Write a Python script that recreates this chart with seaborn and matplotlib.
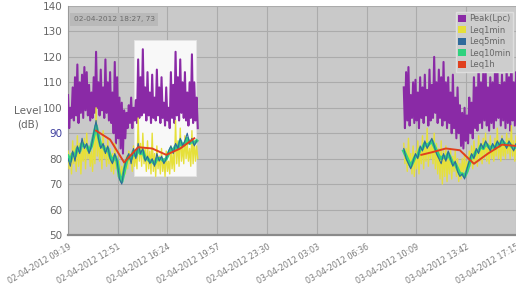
import numpy as np
import pandas as pd
import matplotlib
matplotlib.use('Agg')
import matplotlib.pyplot as plt
import matplotlib.dates as mdates
from matplotlib.patches import Patch, Rectangle
import seaborn as sns

# ---- day 1 : 10 minute bins from 02-04-2012 09:19 ----
day1_start = '2012-04-02 09:19'
peak_hi_1 = [105, 100, 108, 112, 117, 110, 113, 116, 114, 109, 106, 112, 122, 110, 115, 108,
             119, 110, 114, 106, 118, 112, 104, 102, 99, 98, 101, 104, 100, 103, 119, 112,
             123, 108, 114, 106, 113, 104, 115, 108, 112, 102, 108, 100, 114, 109, 122, 112,
             119, 110, 114, 106, 110, 121, 110, 104]
peak_lo_1 = [92, 96, 95, 97, 94, 98, 96, 99, 97, 95, 96, 98, 100, 97, 99, 96, 98, 95, 94, 90,
             86, 88, 84, 82, 88, 92, 94, 92, 95, 94, 96, 97, 98, 95, 97, 94, 96, 95, 97, 94,
             96, 93, 95, 92, 96, 94, 97, 95, 98, 96, 95, 93, 96, 94, 95, 92]
leq1min_hi_1 = [83, 82, 87, 85, 89, 86, 84, 88, 90, 85, 83, 87, 100, 89, 86, 91, 85, 88, 84, 82,
                86, 81, 79, 77, 79, 81, 83, 80, 85, 82, 96, 86, 90, 84, 87, 83, 90, 82, 85, 81,
                84, 80, 83, 79, 85, 82, 95, 87, 92, 85, 89, 86, 84, 91, 87, 85]
leq1min_lo_1 = [76, 74, 78, 75, 77, 74, 79, 76, 80, 77, 75, 78, 81, 79, 76, 80, 77, 78, 75, 74,
                76, 73, 71, 72, 74, 76, 78, 75, 77, 76, 79, 77, 78, 75, 76, 74, 75, 73, 76, 74,
                75, 73, 75, 74, 76, 75, 78, 77, 79, 78, 80, 79, 77, 78, 79, 80]
leq5_1 = [80, 77, 83, 79, 85, 82, 88, 84, 86, 82, 85, 90, 95, 88, 84, 86, 82, 85, 80, 78, 82,
          79, 72, 70, 76, 80, 82, 78, 84, 80, 86, 82, 84, 79, 81, 78, 80, 77, 82, 79, 81, 78,
          80, 83, 85, 82, 86, 84, 88, 85, 87, 90, 86, 88, 85, 87]
leq10_1 = [81, 79, 82, 81, 84, 83, 86, 85, 85, 83, 85, 89, 93, 89, 85, 85, 83, 84, 81, 79, 81,
           79, 73, 71, 75, 79, 81, 80, 83, 81, 84, 82, 83, 80, 80, 79, 79, 78, 80, 80, 80, 79,
           80, 82, 84, 83, 85, 84, 87, 85, 86, 88, 86, 87, 86, 87]
leq1h_times_1 = ['2012-04-02 11:19', '2012-04-02 12:19', '2012-04-02 13:19', '2012-04-02 14:19',
                 '2012-04-02 15:19', '2012-04-02 16:19', '2012-04-02 17:19', '2012-04-02 18:19']
leq1h_1 = [91, 87.5, 78.5, 84.5, 84, 81.5, 84, 88]

# ---- day 2 : 10 minute bins from 03-04-2012 09:15 ----
day2_start = '2012-04-03 09:15'
peak_hi_2 = [108, 114, 116, 105, 110, 111, 106, 112, 108, 113, 107, 115, 109, 120, 110, 115,
             112, 118, 110, 112, 106, 113, 104, 108, 101, 98, 100, 97, 104, 102, 112, 108,
             117, 110, 114, 115, 108, 112, 110, 114, 117, 109, 113, 110, 115, 112, 121, 110,
             114, 108]
peak_lo_2 = [92, 95, 93, 96, 94, 95, 92, 96, 94, 97, 93, 95, 96, 98, 94, 96, 93, 95, 92, 94,
             90, 92, 88, 90, 85, 84, 87, 86, 90, 88, 92, 91, 94, 92, 95, 93, 91, 94, 92, 95,
             96, 93, 95, 92, 94, 91, 95, 93, 94, 92]
leq1min_hi_2 = [86, 84, 88, 82, 85, 83, 87, 84, 89, 86, 92, 85, 88, 90, 86, 84, 87, 83, 85, 82,
                84, 81, 83, 80, 78, 80, 82, 79, 83, 85, 87, 84, 89, 86, 88, 90, 86, 89, 85, 88,
                92, 87, 89, 86, 90, 88, 93, 87, 89, 86]
leq1min_lo_2 = [78, 75, 77, 74, 73, 76, 74, 78, 76, 79, 77, 80, 78, 76, 74, 72, 70, 73, 71, 74,
                72, 75, 73, 71, 72, 74, 73, 75, 77, 76, 78, 77, 79, 78, 80, 79, 78, 80, 79, 81,
                80, 79, 81, 80, 82, 80, 81, 79, 80, 81]
leq5_2 = [84, 80, 78, 76, 79, 82, 80, 85, 83, 87, 84, 86, 88, 85, 82, 80, 78, 82, 79, 83, 80,
          77, 79, 75, 73, 74, 72, 76, 79, 82, 80, 84, 82, 86, 84, 87, 85, 83, 86, 84, 87, 85,
          88, 86, 84, 87, 85, 83, 86, 84]
leq10_2 = [83, 81, 79, 77, 79, 81, 81, 84, 84, 86, 85, 86, 87, 85, 83, 81, 80, 81, 80, 82, 80,
           78, 78, 76, 74, 74, 73, 75, 78, 81, 81, 83, 83, 85, 84, 86, 85, 84, 85, 84, 86, 85,
           87, 86, 85, 86, 85, 84, 85, 84]
leq1h_times_2 = ['2012-04-03 10:30', '2012-04-03 11:15', '2012-04-03 12:15', '2012-04-03 13:15',
                 '2012-04-03 14:15', '2012-04-03 15:15', '2012-04-03 16:15', '2012-04-03 17:15']
leq1h_2 = [81.5, 82.5, 84, 83.3, 78, 82, 85.5, 85]

tick_labels = ['02-04-2012 09:19', '02-04-2012 12:51', '02-04-2012 16:24', '02-04-2012 19:57',
               '02-04-2012 23:30', '03-04-2012 03:03', '03-04-2012 06:36', '03-04-2012 10:09',
               '03-04-2012 13:42', '03-04-2012 17:15']
series_names = ['Peak(Lpc)', 'Leq1min', 'Leq5min', 'Leq10min', 'Leq1h']
colors = ['#8a2aa6', '#e6e03a', '#2f6a9c', '#2ed27e', '#e0401e']

# selection box and tooltip
sel_x0, sel_x1 = '2012-04-02 14:01', '2012-04-02 18:27'
sel_y0, sel_y1 = 73, 126.5
tooltip = '02-04-2012 18:27, 73'


def zigzag(start, hi, lo):
    t = pd.date_range(start, periods=len(hi), freq='10min')
    tt = np.empty(2 * len(hi), dtype='datetime64[ns]')
    tt[0::2] = t.values
    tt[1::2] = (t + pd.Timedelta('5min')).values
    vv = np.empty(2 * len(hi))
    vv[0::2] = hi
    vv[1::2] = lo
    return pd.DataFrame({'time': tt, 'value': vv})


def plain(start, vals):
    return pd.DataFrame({'time': pd.date_range(start, periods=len(vals), freq='10min'),
                         'value': vals})


fig = plt.figure(figsize=(5.16, 2.89), dpi=100)
fig.patch.set_facecolor('white')
ax = fig.add_axes([0.1318, 0.1869, 0.8886, 0.7924])
ax.set_facecolor('#c9c9c9')

x0 = mdates.date2num(pd.Timestamp(sel_x0))
x1 = mdates.date2num(pd.Timestamp(sel_x1))
ax.add_patch(Rectangle((x0, sel_y0), x1 - x0, sel_y1 - sel_y0,
                       facecolor='#f8f8f8', edgecolor='#e4e4e4', lw=0.6, zorder=1))

segments = [
    (zigzag(day1_start, peak_hi_1, peak_lo_1), zigzag(day1_start, leq1min_hi_1, leq1min_lo_1),
     plain(day1_start, leq5_1), plain(day1_start, leq10_1),
     pd.DataFrame({'time': pd.to_datetime(leq1h_times_1), 'value': leq1h_1})),
    (zigzag(day2_start, peak_hi_2, peak_lo_2), zigzag(day2_start, leq1min_hi_2, leq1min_lo_2),
     plain(day2_start, leq5_2), plain(day2_start, leq10_2),
     pd.DataFrame({'time': pd.to_datetime(leq1h_times_2), 'value': leq1h_2})),
]
widths = [1.5, 1.0, 0.8, 2.4, 1.4]
zorders = [3, 4, 6, 5, 7]
for seg in segments:
    for i, df in enumerate(seg):
        sns.lineplot(data=df, x='time', y='value', color=colors[i], lw=widths[i],
                     estimator=None, ax=ax, zorder=zorders[i])

ax.set_ylim(50, 140)
ax.set_yticks(range(50, 141, 10))
ax.set_xlim(pd.Timestamp('2012-04-02 09:19'), pd.Timestamp('2012-04-03 18:00'))
tick_pos = pd.to_datetime(tick_labels, format='%d-%m-%Y %H:%M')
ax.set_xticks(tick_pos)
ax.set_xticklabels(tick_labels, rotation=30, ha='right', va='top', rotation_mode='anchor',
                   fontsize=5.8, color='#7a7a7a')
ax.tick_params(axis='x', length=0, pad=5)
ax.tick_params(axis='y', length=0, labelsize=7.5, labelcolor='#666666', pad=4)
ax.get_yticklabels()[4].set_color('#3d3d9e')
ax.grid(True, color='#ababab', lw=0.8, zorder=0)
ax.set_axisbelow(True)
ax.set_xlabel('')
ax.set_ylabel('Level\n(dB)', rotation=0, fontsize=7.5, color='#666666', labelpad=0,
              linespacing=1.5)
ax.yaxis.set_label_coords(-0.087, 0.46)
for s in ['top', 'right']:
    ax.spines[s].set_visible(False)
ax.spines['left'].set_color('#9a9a9a')
ax.spines['bottom'].set_color('#8a8a8a')
ax.spines['bottom'].set_linewidth(1.6)

ax.text(0.012, 0.955, tooltip, transform=ax.transAxes, fontsize=5.3, color='#6a6a6a',
        va='top', ha='left',
        bbox=dict(boxstyle='square,pad=0.5', facecolor='#b9b9b9', edgecolor='none'), zorder=10)

handles = [Patch(facecolor=c, edgecolor='none') for c in colors]
leg = ax.legend(handles, series_names, loc='upper left', bbox_to_anchor=(0.846, 0.975),
                fontsize=6, frameon=True, facecolor='#cdcdcd', edgecolor='#dedede',
                handlelength=0.9, handleheight=0.9, handletextpad=0.4, labelspacing=0.3,
                borderpad=0.3, borderaxespad=0, fancybox=False, framealpha=1)
for t in leg.get_texts():
    t.set_color('#666666')
leg.set_zorder(11)

fig.savefig('out.png', dpi=100)
